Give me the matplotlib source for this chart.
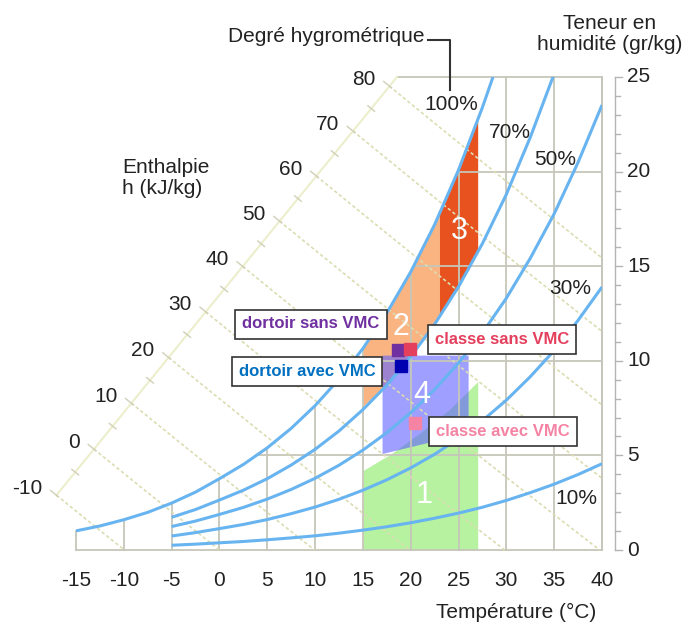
import numpy as np
import matplotlib.pyplot as plt
from matplotlib.patches import Rectangle

plt.rcParams['font.family'] = ['Liberation Sans', 'DejaVu Sans']

# --- Données lues sur le diagramme de l'air humide ---
# courbe de saturation (100%)
temp_sat = [-15, -12.5, -10, -7.5, -5, -2.5, 0, 2.5, 5, 7.5, 10, 12.5, 15,
            17.5, 20, 22.5, 25, 27.5, 28.6]
hum_100 = [1.01, 1.27, 1.60, 1.99, 2.48, 3.06, 3.77, 4.52, 5.40, 6.43, 7.63,
           9.03, 10.65, 12.53, 14.70, 17.20, 20.09, 23.40, 25.0]

# autres degrés hygrométriques
temp_hr = [-5, -2.5, 0, 2.5, 5, 7.5, 10, 12.5, 15, 17.5, 20, 22.5, 25, 27.5,
           30, 32.5, 35, 37.5, 40]
hum_70 = [1.73, 2.14, 2.64, 3.16, 3.77, 4.49, 5.32, 6.29, 7.42, 8.71, 10.22,
          11.93, 13.92, 16.20, 18.80, 21.81, 25.17, 29.07, 33.44]
hum_50 = [1.24, 1.53, 1.88, 2.25, 2.69, 3.20, 3.79, 4.48, 5.28, 6.20, 7.26,
          8.48, 9.88, 11.48, 13.31, 15.42, 17.77, 20.49, 23.52]
hum_30 = [0.74, 0.92, 1.13, 1.35, 1.61, 1.92, 2.27, 2.68, 3.16, 3.71, 4.34,
          5.06, 5.89, 6.84, 7.92, 9.16, 10.54, 12.14, 13.90]
hum_10 = [0.25, 0.31, 0.38, 0.45, 0.54, 0.64, 0.75, 0.89, 1.05, 1.23, 1.44,
          1.68, 1.95, 2.26, 2.62, 3.03, 3.48, 3.99, 4.56]

# zones de confort
zone1_t = [15, 18, 21, 24, 27]
zone1_bas = [0, 0, 0, 0, 0]
zone1_haut = [4.2, 5.1, 6.2, 7.4, 8.9]
zone2_t = [15, 17.5, 20, 22.5, 23]
zone2_bas = [7.6, 8.8, 10.22, 11.93, 12.31]
zone2_haut = [10.65, 12.53, 14.70, 17.20, 17.75]
zone3_t = [23, 24, 25, 26, 27]
zone3_bas = [12.31, 13.10, 13.92, 14.79, 15.72]
zone3_haut = [17.75, 18.88, 20.09, 21.35, 22.70]
zone4_t = [17, 26]
zone4_bas = [5.1, 6.2]
zone4_haut = [10.3, 10.3]

# mesures
mesures = ['dortoir sans VMC', 'classe sans VMC', 'dortoir avec VMC', 'classe avec VMC']
mesures_t = [18.7, 19.9, 19.0, 20.45]
mesures_w = [10.57, 10.64, 9.74, 6.69]
couleurs_pt = ['#7030a0', '#e4405e', '#0000b0', '#f483a4']
couleurs_txt = ['#7030a0', '#e4405e', '#0070c0', '#f483a4']

enthalpies = [-10, 0, 10, 20, 30, 40, 50, 60, 70, 80]
enthalpies_mineures = [-5, 5, 15, 25, 35, 45, 55, 65, 75]
temp_ticks = [-15, -10, -5, 0, 5, 10, 15, 20, 25, 30, 35, 40]
hum_ticks = [0, 5, 10, 15, 20, 25]

# --- Mise en page (pixels de l'image) ---
W, H = 689, 627
kx = (602 - 76) / 55.0
ky = (550 - 77) / 25.0

fig = plt.figure(figsize=(W / 100, H / 100), dpi=100)
ax = fig.add_axes([0, 0, 1, 1])
ax.set_xlim(-15 - 76 / kx, -15 + (W - 76) / kx)
ax.set_ylim(-(H - 550) / ky, 550 / ky)
ax.axis('off')


def fp(x, y):
    return x / W, 1 - y / H


grille = '#c6c6ba'
jaune = '#dcdcb2'
bleu = '#68b4f0'

# zones colorées
ax.fill_between(zone1_t, zone1_bas, zone1_haut, color='#b6f2a0', lw=0, zorder=1)
ax.fill_between(zone2_t, zone2_bas, zone2_haut, color='#f9b482', lw=0, zorder=1)
ax.fill_between(zone3_t, zone3_bas, zone3_haut, color='#e8521e', lw=0, zorder=1)
ax.fill_between(zone4_t, zone4_bas, zone4_haut, color='#6464ff', alpha=0.62, lw=0, zorder=1)

# grille
for t in temp_ticks:
    haut = min(np.interp(t, temp_sat, hum_100), 25)
    ax.plot([t, t], [0, haut], color=grille, lw=1.3, zorder=2)
for w in hum_ticks[1:-1]:
    t0 = np.interp(w, hum_100, temp_sat)
    ax.plot([t0, 40], [w, w], color=grille, lw=1.3, zorder=2)
ax.plot([-15, 40], [0, 0], color=grille, lw=1.3, zorder=2)

# axe des enthalpies (perpendiculaire aux isenthalpes)
coin_t, coin_w = 18.56, 25.0
pente = 0.6208
ordo = coin_w - pente * coin_t


def w_isenthalpe(h, t):
    return (h - 1.006 * t) / (2.501 + 0.00186 * t)


def t_axe(h):
    a = 0.00186 * pente
    b = 1.006 + 0.00186 * ordo + 2.501 * pente
    c = 2.501 * ordo - h
    return (-b + np.sqrt(b * b - 4 * a * c)) / (2 * a)


ax.plot([coin_t, 40], [25, 25], color=grille, lw=1.3, zorder=2)
t_bas = t_axe(enthalpies[0])
ax.plot([t_bas, coin_t], [ordo + pente * t_bas, coin_w], color='#eceecc', lw=1.5, zorder=2)

for h in enthalpies:
    ta = t_axe(h)
    t_fin = h / 1.006 if h / 1.006 <= 40 else 40
    ts = np.linspace(ta, t_fin, 40)
    ax.plot(ts, w_isenthalpe(h, ts), color=jaune, lw=1.2, ls=(0, (2, 1.5)), zorder=2)
    tt = np.array([ta - 0.6, ta + 0.2])
    ax.plot(tt, w_isenthalpe(h, tt), color='#d0d0b8', lw=1.0, zorder=2)
    ax.annotate(str(h), (ta, w_isenthalpe(h, ta)), xytext=(-14, 7),
                textcoords='offset pixels', ha='right', va='center', fontsize=15,
                color='#222222')
for h in enthalpies_mineures:
    ta = t_axe(h)
    tt = np.array([ta - 0.35, ta + 0.35])
    ax.plot(tt, w_isenthalpe(h, tt), color='#d0d0b8', lw=1.0, zorder=2)

# cadre droit
ax.plot([40, 40], [0, 25], color=grille, lw=1.3, zorder=2)

# courbes de degré hygrométrique
cadre = Rectangle((-15, 0), 55, 25, transform=ax.transData)
for tx, hx in [(temp_sat, hum_100), (temp_hr, hum_70), (temp_hr, hum_50),
               (temp_hr, hum_30), (temp_hr, hum_10)]:
    ln, = ax.plot(tx, hx, color=bleu, lw=2.2, solid_capstyle='butt', zorder=3)
    ln.set_clip_path(cadre)

# axe des teneurs en humidité
x_axe = -15 + (615 - 76) / kx
ax.plot([x_axe, x_axe], [0, 25], color='#b4b4b4', lw=1.0, zorder=2)
for w in range(0, 26):
    long = 0.75 if w % 5 == 0 else 0.5
    ax.plot([x_axe, x_axe + long], [w, w], color='#b4b4b4', lw=1.0, zorder=2)
for w in hum_ticks:
    ax.text(-15 + (627 - 76) / kx, w, str(w), ha='left', va='center', fontsize=15,
            color='#222222')
for t in temp_ticks:
    ax.annotate(str(t), (t, 0), xytext=(0, -31), textcoords='offset pixels',
                ha='center', va='center', fontsize=15, color='#222222')

# points de mesure
for t, w, c in zip(mesures_t, mesures_w, couleurs_pt):
    ax.plot(t, w, marker='s', ms=8, color=c, mec=c, ls='none', zorder=4)

# étiquettes des mesures
pos_etiq = [(311, 324), (502, 339), (307, 371), (503, 431)]
for txt, c, (x, y) in zip(mesures, couleurs_txt, pos_etiq):
    fig.text(*fp(x, y), txt, ha='center', va='center', fontsize=12,
             fontweight='bold', color=c, zorder=6,
             bbox=dict(boxstyle='square,pad=0.42', fc='white', ec='#333333', lw=1.2))

# numéros des zones
for num, (x, y) in zip(['1', '2', '3', '4'], [(424, 495), (401, 327), (459, 231), (422, 395)]):
    fig.text(*fp(x, y), num, ha='center', va='center', fontsize=22, color='white',
             family=['Liberation Sans Narrow', 'Liberation Sans'], zorder=5)

# textes
txt_kw = dict(fontsize=15, color='#222222')
fig.text(*fp(425, 37), 'Degré hygrométrique', ha='right', va='center', **txt_kw)
fig.add_artist(plt.Line2D([428 / W, 450 / W, 450 / W], [1 - 40 / H, 1 - 40 / H, 1 - 90 / H],
                          color='#333333', lw=1.5))
fig.text(*fp(451, 104), '100%', ha='center', va='center', **txt_kw)
fig.text(*fp(510, 132), '70%', ha='center', va='center', **txt_kw)
fig.text(*fp(555, 160), '50%', ha='center', va='center', **txt_kw)
fig.text(*fp(570, 289), '30%', ha='center', va='center', **txt_kw)
fig.text(*fp(576, 499), '10%', ha='center', va='center', **txt_kw)
fig.text(*fp(610, 34), 'Teneur en\nhumidité (gr/kg)', ha='center', va='center',
         multialignment='center', linespacing=1.1, **txt_kw)
fig.text(*fp(122, 178), 'Enthalpie\nh (kJ/kg)', ha='left', va='center',
         linespacing=1.1, **txt_kw)
fig.text(*fp(516, 612), 'Température (°C)', ha='center', va='center', **txt_kw)

fig.savefig('out.png', dpi=100)
